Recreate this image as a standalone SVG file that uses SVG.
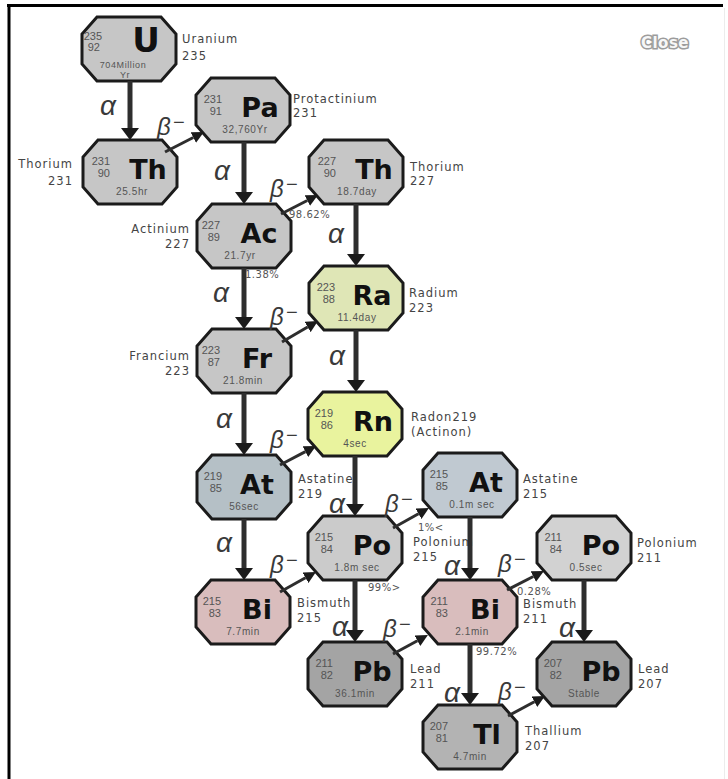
<svg xmlns="http://www.w3.org/2000/svg" xmlns:xlink="http://www.w3.org/1999/xlink" width="728" height="779" viewBox="0 0 728 779">
<style>
.oct{stroke:#1b1b1b;stroke-width:3;stroke-linejoin:miter}
.g{fill:#c6c6c6}.po{fill:#cbcbcb}.po2{fill:#d2d2d2}
.ra{fill:#dfe6b6}.rn{fill:#e9f39e}
.at{fill:#b5c0c6}.at2{fill:#c0c9d1}
.bi{fill:#d9bdbd}.pb{fill:#a4a4a4}.tl{fill:#b3b3b3}
.m{font-family:"Liberation Sans",Arial,sans-serif;font-size:11px;fill:#555;text-anchor:end}
.s{font-family:"DejaVu Sans",sans-serif;font-weight:bold;font-size:27px;fill:#111;text-anchor:middle}
.h{font-family:"Liberation Sans",Arial,sans-serif;font-size:10px;fill:#555;text-anchor:middle;letter-spacing:0.6px}
.lab{font-family:"DejaVu Sans",sans-serif;font-size:11.5px;fill:#444;letter-spacing:1px}
.labl{font-family:"DejaVu Sans",sans-serif;font-size:11.5px;fill:#444;letter-spacing:1px;text-anchor:end}
.a{font-family:"Liberation Sans",Arial,sans-serif;font-style:italic;font-size:28px;fill:#3a3a3a;text-anchor:middle}
.b{font-family:"Liberation Sans",Arial,sans-serif;font-style:italic;font-size:24px;fill:#3a3a3a}
.pct{font-family:"DejaVu Sans",sans-serif;font-size:10px;fill:#555;letter-spacing:0.5px}
.al{stroke:#2e2e2e;stroke-width:5;fill:none}
.bl{stroke:#2e2e2e;stroke-width:3;fill:none}
</style>
<defs>
<polygon id="oct" points="-32,-32 32,-32 47,-15 47,15 32,32 -32,32 -47,15 -47,-15"/>
<marker id="ha" viewBox="0 0 12 18" refX="0" refY="9" markerWidth="12" markerHeight="18" markerUnits="userSpaceOnUse" orient="auto">
<path d="M0,0 L12,9 L0,18 z" fill="#1b1b1b"/>
</marker>
<marker id="hb" viewBox="0 0 12 12" refX="0" refY="6" markerWidth="12" markerHeight="12" markerUnits="userSpaceOnUse" orient="auto">
<path d="M0,0 L12,6 L0,12 z" fill="#1b1b1b"/>
</marker>
</defs>
<rect x="0" y="0" width="728" height="779" fill="#ffffff"/>
<g id="frame">
<line x1="7" y1="5.5" x2="723" y2="5.5" stroke="#000" stroke-width="3"/>
<line x1="9" y1="4" x2="9" y2="779" stroke="#000" stroke-width="3"/>
<line x1="724.5" y1="8" x2="724.5" y2="779" stroke="#ececec" stroke-width="1"/>
</g>
<g id="close">
<text x="665" y="48" font-family="DejaVu Sans,sans-serif" font-weight="bold" font-size="15" text-anchor="middle" fill="#f7f7f7" stroke="#9c9c9c" stroke-width="3" paint-order="stroke" letter-spacing="0.5">Close</text>
</g>

<g id="nodes">
<g id="U" transform="translate(129,49)">
<use href="#oct" class="oct g"/>
<text class="m" x="-27" y="-9">235</text><text class="m" x="-29" y="2">92</text>
<text class="s" x="17" y="3" style="font-size:34px">U</text>
<text class="h" x="-6" y="19" style="font-size:9px">704Million</text><text class="h" x="-4" y="29" style="font-size:9px">Yr</text>
<text class="lab" x="53" y="-6">Uranium</text><text class="lab" x="53" y="11">235</text>
</g>
<g id="Pa" transform="translate(243,110)">
<use href="#oct" class="oct g"/>
<text class="m" x="-21" y="-7">231</text><text class="m" x="-21" y="5">91</text>
<text class="s" x="17" y="7">Pa</text>
<text class="h" x="2" y="23">32,760Yr</text>
<text class="lab" x="50" y="-7">Protactinium</text><text class="lab" x="50" y="7">231</text>
</g>
<g id="Th231" transform="translate(130,172)">
<use href="#oct" class="oct g"/>
<text class="m" x="-20" y="-7">231</text><text class="m" x="-20" y="5">90</text>
<text class="s" x="18" y="7">Th</text>
<text class="h" x="2" y="23">25.5hr</text>
<text class="labl" x="-57" y="-4">Thorium</text><text class="labl" x="-57" y="13">231</text>
</g>
<g id="Th227" transform="translate(356,172)">
<use href="#oct" class="oct g"/>
<text class="m" x="-20" y="-7">227</text><text class="m" x="-20" y="5">90</text>
<text class="s" x="18" y="7">Th</text>
<text class="h" x="1" y="23">18.7day</text>
<text class="lab" x="54" y="-1">Thorium</text><text class="lab" x="54" y="13">227</text>
</g>
<g id="Ac" transform="translate(244,236)">
<use href="#oct" class="oct g"/>
<text class="m" x="-24" y="-7">227</text><text class="m" x="-24" y="5">89</text>
<text class="s" x="15" y="7">Ac</text>
<text class="h" x="-4" y="23">21.7yr</text>
<text class="labl" x="-54" y="-3">Actinium</text><text class="labl" x="-54" y="12">227</text>
</g>
<g id="Ra" transform="translate(356,298)">
<use href="#oct" class="oct ra"/>
<text class="m" x="-21" y="-7">223</text><text class="m" x="-21" y="5">88</text>
<text class="s" x="16" y="7">Ra</text>
<text class="h" x="1" y="23">11.4day</text>
<text class="lab" x="53" y="-1">Radium</text><text class="lab" x="53" y="14">223</text>
</g>
<g id="Fr" transform="translate(244,361)">
<use href="#oct" class="oct g"/>
<text class="m" x="-24" y="-7">223</text><text class="m" x="-24" y="5">87</text>
<text class="s" x="13" y="7">Fr</text>
<text class="h" x="-1" y="23">21.8min</text>
<text class="labl" x="-54" y="-1">Francium</text><text class="labl" x="-54" y="14">223</text>
</g>
<g id="Rn" transform="translate(355,424)">
<use href="#oct" class="oct rn"/>
<text class="m" x="-22" y="-7">219</text><text class="m" x="-22" y="5">86</text>
<text class="s" x="18" y="7">Rn</text>
<text class="h" x="0" y="23">4sec</text>
<text class="lab" x="56" y="-3">Radon219</text><text class="lab" x="56" y="12">(Actinon)</text>
</g>
<g id="At219" transform="translate(244,487)">
<use href="#oct" class="oct at"/>
<text class="m" x="-22" y="-7">219</text><text class="m" x="-22" y="5">85</text>
<text class="s" x="13" y="7">At</text>
<text class="h" x="0" y="23">56sec</text>
<text class="lab" x="54" y="-4">Astatine</text><text class="lab" x="54" y="11">219</text>
</g>
<g id="At215" transform="translate(470,485)">
<use href="#oct" class="oct at2"/>
<text class="m" x="-22" y="-7">215</text><text class="m" x="-22" y="5">85</text>
<text class="s" x="16" y="7">At</text>
<text class="h" x="2" y="23">0.1m sec</text>
<text class="lab" x="53" y="-2">Astatine</text><text class="lab" x="53" y="13">215</text>
</g>
<g id="Po215" transform="translate(355,548)">
<use href="#oct" class="oct po"/>
<text class="m" x="-22" y="-7">215</text><text class="m" x="-22" y="5">84</text>
<text class="s" x="17" y="7">Po</text>
<text class="h" x="2" y="23">1.8m sec</text>
<text class="lab" x="58" y="-2">Polonium</text><text class="lab" x="58" y="13">215</text>
</g>
<g id="Po211" transform="translate(584,548)">
<use href="#oct" class="oct po2"/>
<text class="m" x="-22" y="-7">211</text><text class="m" x="-22" y="5">84</text>
<text class="s" x="17" y="7">Po</text>
<text class="h" x="2" y="23">0.5sec</text>
<text class="lab" x="53" y="-1">Polonium</text><text class="lab" x="53" y="14">211</text>
</g>
<g id="Bi215" transform="translate(243,612)">
<use href="#oct" class="oct bi"/>
<text class="m" x="-22" y="-7">215</text><text class="m" x="-22" y="5">83</text>
<text class="s" x="14" y="7">Bi</text>
<text class="h" x="0" y="23">7.7min</text>
<text class="lab" x="54" y="-5">Bismuth</text><text class="lab" x="54" y="10">215</text>
</g>
<g id="Bi211" transform="translate(470,612)">
<use href="#oct" class="oct bi"/>
<text class="m" x="-22" y="-7">211</text><text class="m" x="-22" y="5">83</text>
<text class="s" x="15" y="7">Bi</text>
<text class="h" x="2" y="23">2.1min</text>
<text class="lab" x="53" y="-4">Bismuth</text><text class="lab" x="53" y="11">211</text>
</g>
<g id="Pb211" transform="translate(355,674)">
<use href="#oct" class="oct pb"/>
<text class="m" x="-22" y="-7">211</text><text class="m" x="-22" y="5">82</text>
<text class="s" x="17" y="7">Pb</text>
<text class="h" x="0" y="23">36.1min</text>
<text class="lab" x="55" y="-1">Lead</text><text class="lab" x="55" y="14">211</text>
</g>
<g id="Pb207" transform="translate(584,674)">
<use href="#oct" class="oct pb"/>
<text class="m" x="-22" y="-7">207</text><text class="m" x="-22" y="5">82</text>
<text class="s" x="17" y="7">Pb</text>
<text class="h" x="0" y="23">Stable</text>
<text class="lab" x="54" y="-1">Lead</text><text class="lab" x="54" y="14">207</text>
</g>
<g id="Tl" transform="translate(470,737)">
<use href="#oct" class="oct tl"/>
<text class="m" x="-22" y="-7">207</text><text class="m" x="-22" y="5">81</text>
<text class="s" x="17" y="7">Tl</text>
<text class="h" x="0" y="23">4.7min</text>
<text class="lab" x="55" y="-2">Thallium</text><text class="lab" x="55" y="13">207</text>
</g>
</g>

<g id="connectors">
<line class="al" x1="130" y1="81" x2="130" y2="128" marker-end="url(#ha)"/>
<line class="al" x1="244" y1="142" x2="244" y2="192" marker-end="url(#ha)"/>
<line class="al" x1="356" y1="204" x2="356" y2="254" marker-end="url(#ha)"/>
<line class="al" x1="244" y1="268" x2="244" y2="317" marker-end="url(#ha)"/>
<line class="al" x1="356" y1="330" x2="356" y2="380" marker-end="url(#ha)"/>
<line class="al" x1="244" y1="393" x2="244" y2="443" marker-end="url(#ha)"/>
<line class="al" x1="355" y1="456" x2="355" y2="504" marker-end="url(#ha)"/>
<line class="al" x1="244" y1="519" x2="244" y2="568" marker-end="url(#ha)"/>
<line class="al" x1="470" y1="517" x2="470" y2="568" marker-end="url(#ha)"/>
<line class="al" x1="355" y1="580" x2="355" y2="630" marker-end="url(#ha)"/>
<line class="al" x1="584" y1="580" x2="584" y2="630" marker-end="url(#ha)"/>
<line class="al" x1="470" y1="644" x2="470" y2="693" marker-end="url(#ha)"/>

<line class="bl" x1="165" y1="152" x2="193.3" y2="137.5" marker-end="url(#hb)"/>
<line class="bl" x1="281" y1="214" x2="307.3" y2="200.5" marker-end="url(#hb)"/>
<line class="bl" x1="282" y1="342" x2="307.6" y2="327" marker-end="url(#hb)"/>
<line class="bl" x1="280" y1="465" x2="305.4" y2="451.6" marker-end="url(#hb)"/>
<line class="bl" x1="393" y1="528" x2="418.5" y2="513.8" marker-end="url(#hb)"/>
<line class="bl" x1="280" y1="592" x2="305.5" y2="577.8" marker-end="url(#hb)"/>
<line class="bl" x1="507" y1="590" x2="533.3" y2="576.5" marker-end="url(#hb)"/>
<line class="bl" x1="393" y1="654" x2="417.4" y2="640.7" marker-end="url(#hb)"/>
<line class="bl" x1="508" y1="716" x2="534.4" y2="701.7" marker-end="url(#hb)"/>

<text class="a" x="108" y="115">α</text>
<text class="a" x="222" y="180">α</text>
<text class="a" x="336" y="243">α</text>
<text class="a" x="221" y="302">α</text>
<text class="a" x="337" y="365">α</text>
<text class="a" x="224" y="428">α</text>
<text class="a" x="337" y="513">α</text>
<text class="a" x="224" y="552">α</text>
<text class="a" x="452" y="575">α</text>
<text class="a" x="340" y="636">α</text>
<text class="a" x="567" y="637">α</text>
<text class="a" x="452" y="702">α</text>

<text class="b" x="157" y="135">β<tspan dx="2" dy="-6" font-size="20">−</tspan></text>
<text class="b" x="270" y="197">β<tspan dx="2" dy="-6" font-size="20">−</tspan></text>
<text class="b" x="270" y="325">β<tspan dx="2" dy="-6" font-size="20">−</tspan></text>
<text class="b" x="270" y="448">β<tspan dx="2" dy="-6" font-size="20">−</tspan></text>
<text class="b" x="385" y="512">β<tspan dx="2" dy="-6" font-size="20">−</tspan></text>
<text class="b" x="270" y="573">β<tspan dx="2" dy="-6" font-size="20">−</tspan></text>
<text class="b" x="498" y="572">β<tspan dx="2" dy="-6" font-size="20">−</tspan></text>
<text class="b" x="383" y="637">β<tspan dx="2" dy="-6" font-size="20">−</tspan></text>
<text class="b" x="498" y="700">β<tspan dx="2" dy="-6" font-size="20">−</tspan></text>

<text class="pct" x="289" y="218">98.62%</text>
<text class="pct" x="245" y="278">1.38%</text>
<text class="pct" x="418" y="531">1%&lt;</text>
<text class="pct" x="368" y="591">99%&gt;</text>
<text class="pct" x="517" y="595">0.28%</text>
<text class="pct" x="476" y="655">99.72%</text>
</g>
</svg>
